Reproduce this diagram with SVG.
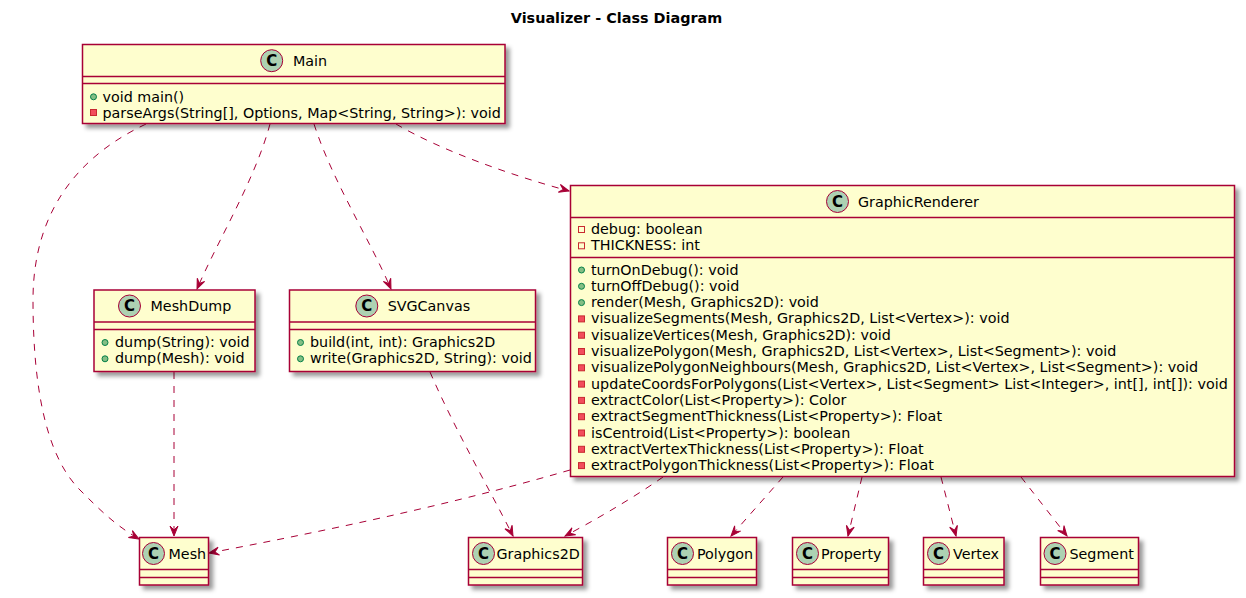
<svg xmlns="http://www.w3.org/2000/svg" width="1246" height="598" viewBox="0 0 1246 598">
<style>
.box{fill:#FEFECE;stroke:#A80036;stroke-width:1.5;filter:url(#sh)}
.sep{stroke:#A80036;stroke-width:1.5}
.ci{fill:#ADD1B2;stroke:#A80036;stroke-width:1}
.cl{font-family:"DejaVu Sans",sans-serif;font-size:15px;font-weight:bold;fill:#000;text-anchor:middle}
.nm{font-family:"DejaVu Sans",sans-serif;font-size:14.3px;fill:#000}
.mb{font-family:"DejaVu Sans",sans-serif;font-size:14.3px;fill:#000}
.pub{fill:#84BE84;stroke:#038048;stroke-width:1}
.prm{fill:#F24D5C;stroke:#C82930;stroke-width:1}
.prf{fill:none;stroke:#C82930;stroke-width:1}
.edge{fill:none;stroke:#A80036;stroke-width:1;stroke-dasharray:7,7;marker-end:url(#arr)}
.title{font-family:"DejaVu Sans",sans-serif;font-size:14.4px;font-weight:bold;fill:#000;text-anchor:middle}
</style>
<defs>
<filter id="sh" x="-1" y="-1" width="300%" height="300%">
<feGaussianBlur in="SourceAlpha" stdDeviation="2" result="b"/>
<feColorMatrix in="b" type="matrix" values="0 0 0 0 0 0 0 0 0 0 0 0 0 0 0 0 0 0 .4 0" result="b2"/>
<feOffset in="b2" dx="4" dy="4" result="b3"/>
<feBlend in="SourceGraphic" in2="b3" mode="normal"/>
</filter>
<marker id="arr" markerUnits="userSpaceOnUse" markerWidth="12" markerHeight="10" viewBox="-1 -1 12 10" refX="10" refY="4" orient="auto">
<path d="M10,4 L0,0 L4,4 L0,8 Z" fill="#A80036" stroke="#A80036" stroke-width="1"/>
</marker>
</defs>
<rect width="1246" height="598" fill="#FFFFFF"/>
<text class="title" x="616.5" y="22.5">Visualizer - Class Diagram</text>

<g id="connectors">
<path class="edge" d="M146,124 C70,160 33,220 33,300 C33,400 50,460 80,490 C100,510 115,525 139,539"/>
<path class="edge" d="M270,124 C255,180 218,240 197,289"/>
<path class="edge" d="M314,124 C332,180 370,240 391,289"/>
<path class="edge" d="M396,124 C440,150 510,175 569,191"/>
<path class="edge" d="M174,372 L174,536"/>
<path class="edge" d="M430,372 C455,430 490,490 513,536"/>
<path class="edge" d="M570,470 C450,505 320,532 209,553"/>
<path class="edge" d="M663,477 C630,500 595,520 565,536"/>
<path class="edge" d="M783,477 L731,536"/>
<path class="edge" d="M862,477 L848,536"/>
<path class="edge" d="M941,477 L956,536"/>
<path class="edge" d="M1021,477 L1067,536"/>
</g>

<g id="Main">
<rect class="box" x="82.5" y="44.5" width="422.5" height="79"/>
<circle class="ci" cx="271.7" cy="60.7" r="11"/>
<text class="cl" x="271.7" y="66">C</text>
<text class="nm" x="293" y="65.7">Main</text>
<line class="sep" x1="82.5" y1="76.5" x2="505" y2="76.5"/>
<line class="sep" x1="82.5" y1="83.5" x2="505" y2="83.5"/>
<circle class="pub" cx="93.5" cy="96.8" r="3"/>
<text class="mb" x="102.5" y="101.5">void main()</text>
<rect class="prm" x="90.5" y="109.5" width="6" height="6"/>
<text class="mb" x="102.5" y="117.8">parseArgs(String[], Options, Map&lt;String, String&gt;): void</text>
</g>

<g id="GraphicRenderer">
<rect class="box" x="570.5" y="185.5" width="664" height="291"/>
<circle class="ci" cx="837.5" cy="201.5" r="11"/>
<text class="cl" x="837.5" y="206.8">C</text>
<text class="nm" x="858" y="206.5">GraphicRenderer</text>
<line class="sep" x1="570.5" y1="217.5" x2="1234.5" y2="217.5"/>
<rect class="prf" x="578.5" y="226.5" width="6" height="6"/>
<text class="mb" x="591" y="234">debug: boolean</text>
<rect class="prf" x="578.5" y="242.8" width="6" height="6"/>
<text class="mb" x="591" y="250.3">THICKNESS: int</text>
<line class="sep" x1="570.5" y1="257.5" x2="1234.5" y2="257.5"/>
<circle class="pub" cx="581.5" cy="270" r="3"/>
<text class="mb" x="591" y="274.5">turnOnDebug(): void</text>
<circle class="pub" cx="581.5" cy="286.3" r="3"/>
<text class="mb" x="591" y="290.8">turnOffDebug(): void</text>
<circle class="pub" cx="581.5" cy="302.6" r="3"/>
<text class="mb" x="591" y="307.1">render(Mesh, Graphics2D): void</text>
<rect class="prm" x="578.5" y="315.9" width="6" height="6"/>
<text class="mb" x="591" y="323.4">visualizeSegments(Mesh, Graphics2D, List&lt;Vertex&gt;): void</text>
<rect class="prm" x="578.5" y="332.2" width="6" height="6"/>
<text class="mb" x="591" y="339.7">visualizeVertices(Mesh, Graphics2D): void</text>
<rect class="prm" x="578.5" y="348.5" width="6" height="6"/>
<text class="mb" x="591" y="356">visualizePolygon(Mesh, Graphics2D, List&lt;Vertex&gt;, List&lt;Segment&gt;): void</text>
<rect class="prm" x="578.5" y="364.8" width="6" height="6"/>
<text class="mb" x="591" y="372.3">visualizePolygonNeighbours(Mesh, Graphics2D, List&lt;Vertex&gt;, List&lt;Segment&gt;): void</text>
<rect class="prm" x="578.5" y="381.1" width="6" height="6"/>
<text class="mb" x="591" y="388.6">updateCoordsForPolygons(List&lt;Vertex&gt;, List&lt;Segment&gt; List&lt;Integer&gt;, int[], int[]): void</text>
<rect class="prm" x="578.5" y="397.4" width="6" height="6"/>
<text class="mb" x="591" y="404.9">extractColor(List&lt;Property&gt;): Color</text>
<rect class="prm" x="578.5" y="413.7" width="6" height="6"/>
<text class="mb" x="591" y="421.2">extractSegmentThickness(List&lt;Property&gt;): Float</text>
<rect class="prm" x="578.5" y="430" width="6" height="6"/>
<text class="mb" x="591" y="437.5">isCentroid(List&lt;Property&gt;): boolean</text>
<rect class="prm" x="578.5" y="446.3" width="6" height="6"/>
<text class="mb" x="591" y="453.8">extractVertexThickness(List&lt;Property&gt;): Float</text>
<rect class="prm" x="578.5" y="462.6" width="6" height="6"/>
<text class="mb" x="591" y="470.1">extractPolygonThickness(List&lt;Property&gt;): Float</text>
</g>

<g id="MeshDump">
<rect class="box" x="94" y="290" width="161" height="81.5"/>
<circle class="ci" cx="129.5" cy="306" r="11"/>
<text class="cl" x="129.5" y="311.3">C</text>
<text class="nm" x="150.5" y="311">MeshDump</text>
<line class="sep" x1="94" y1="322" x2="255" y2="322"/>
<line class="sep" x1="94" y1="329.5" x2="255" y2="329.5"/>
<circle class="pub" cx="105" cy="342.5" r="3"/>
<text class="mb" x="115" y="347">dump(String): void</text>
<circle class="pub" cx="105" cy="358.8" r="3"/>
<text class="mb" x="115" y="363.3">dump(Mesh): void</text>
</g>

<g id="SVGCanvas">
<rect class="box" x="289.5" y="290" width="246" height="81.5"/>
<circle class="ci" cx="366.8" cy="306" r="11"/>
<text class="cl" x="366.8" y="311.3">C</text>
<text class="nm" x="387.7" y="311">SVGCanvas</text>
<line class="sep" x1="289.5" y1="322" x2="535.5" y2="322"/>
<line class="sep" x1="289.5" y1="329.5" x2="535.5" y2="329.5"/>
<circle class="pub" cx="300.5" cy="342.5" r="3"/>
<text class="mb" x="310" y="347">build(int, int): Graphics2D</text>
<circle class="pub" cx="300.5" cy="358.8" r="3"/>
<text class="mb" x="310" y="363.3">write(Graphics2D, String): void</text>
</g>

<g id="Mesh">
<rect class="box" x="139.5" y="537.5" width="69" height="47.5"/>
<circle class="ci" cx="153.5" cy="553.5" r="11"/>
<text class="cl" x="153.5" y="558.8">C</text>
<text class="nm" x="168.5" y="558.5">Mesh</text>
<line class="sep" x1="139.5" y1="569.5" x2="208.5" y2="569.5"/>
<line class="sep" x1="139.5" y1="577.5" x2="208.5" y2="577.5"/>
</g>

<g id="Graphics2D">
<rect class="box" x="468.5" y="537.5" width="114" height="47.5"/>
<circle class="ci" cx="483.5" cy="553.5" r="11"/>
<text class="cl" x="483.5" y="558.8">C</text>
<text class="nm" x="496.5" y="558.5">Graphics2D</text>
<line class="sep" x1="468.5" y1="569.5" x2="582.5" y2="569.5"/>
<line class="sep" x1="468.5" y1="577.5" x2="582.5" y2="577.5"/>
</g>

<g id="Polygon">
<rect class="box" x="667.5" y="537.5" width="89" height="47.5"/>
<circle class="ci" cx="682.5" cy="553.5" r="11"/>
<text class="cl" x="682.5" y="558.8">C</text>
<text class="nm" x="697" y="558.5">Polygon</text>
<line class="sep" x1="667.5" y1="569.5" x2="756.5" y2="569.5"/>
<line class="sep" x1="667.5" y1="577.5" x2="756.5" y2="577.5"/>
</g>

<g id="Property">
<rect class="box" x="792.5" y="537.5" width="96" height="47.5"/>
<circle class="ci" cx="807.5" cy="553.5" r="11"/>
<text class="cl" x="807.5" y="558.8">C</text>
<text class="nm" x="821" y="558.5">Property</text>
<line class="sep" x1="792.5" y1="569.5" x2="888.5" y2="569.5"/>
<line class="sep" x1="792.5" y1="577.5" x2="888.5" y2="577.5"/>
</g>

<g id="Vertex">
<rect class="box" x="923.5" y="537.5" width="80.5" height="47.5"/>
<circle class="ci" cx="938.5" cy="553.5" r="11"/>
<text class="cl" x="938.5" y="558.8">C</text>
<text class="nm" x="953" y="558.5">Vertex</text>
<line class="sep" x1="923.5" y1="569.5" x2="1004" y2="569.5"/>
<line class="sep" x1="923.5" y1="577.5" x2="1004" y2="577.5"/>
</g>

<g id="Segment">
<rect class="box" x="1040.5" y="537.5" width="98" height="47.5"/>
<circle class="ci" cx="1055" cy="553.5" r="11"/>
<text class="cl" x="1055" y="558.8">C</text>
<text class="nm" x="1069.5" y="558.5">Segment</text>
<line class="sep" x1="1040.5" y1="569.5" x2="1138.5" y2="569.5"/>
<line class="sep" x1="1040.5" y1="577.5" x2="1138.5" y2="577.5"/>
</g>
</svg>
